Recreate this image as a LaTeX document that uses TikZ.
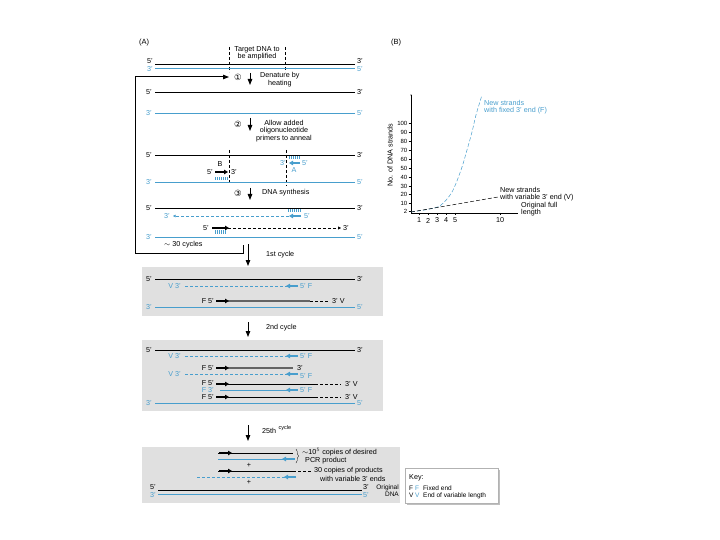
\documentclass[tikz,border=0pt]{standalone}
\usepackage{fontspec}
\setmainfont{Liberation Sans}
\newfontfamily\dvfont{DejaVu Sans}
\usetikzlibrary{arrows.meta,decorations.pathreplacing}
\definecolor{bl}{RGB}{72,158,205}
\definecolor{boxg}{RGB}{224,224,224}
\definecolor{newg}{RGB}{100,100,100}
\begin{document}
\begin{tikzpicture}[x=1pt,y=-1pt,
 lbl/.style={font=\fontsize{7.2}{7.4}\selectfont, inner sep=0pt, text=black},
 blbl/.style={lbl, text=bl},
 slbl/.style={lbl, font=\fontsize{6}{6.5}\selectfont},
 klbl/.style={lbl, font=\fontsize{6.5}{7}\selectfont},
 circ/.style={font=\dvfont\fontsize{8.5}{9}\selectfont, inner sep=0pt},
 ks/.style={line width=0.6pt},
 kthin/.style={line width=0.4pt},
 bs/.style={draw=bl, line width=0.5pt},
 kp/.style={line width=1.4pt, -{Triangle[length=4pt,width=4.5pt]}},
 bp/.style={kp, draw=bl},
 newk/.style={line width=1.2pt, draw=newg},
 kd/.style={line width=0.5pt, dash pattern=on 3pt off 2pt},
 bd/.style={draw=bl, line width=0.5pt, dash pattern=on 3pt off 2pt},
 vd/.style={line width=0.4pt, dash pattern=on 3pt off 2pt},
 flow/.style={line width=1pt, -{Triangle[length=6pt,width=4.5pt]}},
 hatch/.style={draw=bl, line width=0.3pt},
 gbox/.style={fill=boxg, draw=none}
]
\useasboundingbox (0,0) rectangle (720,540);

% ---------------- (A) ----------------
\node[lbl, font=\fontsize{7.5}{8}\selectfont] (lA) at (144,43) {(A)};
\node[lbl, align=center] (tgt) at (257,53) {Target DNA to\\be amplified};
\draw[vd] (229,47) -- (229,72);
\draw[vd] (285,47) -- (285,72);

% original duplex
\draw[kthin] (155,64) -- (355,64);
\draw[bs] (155,68) -- (355,68);
\node[lbl] (o5) at (150,61.5) {5'};
\node[lbl] (o3) at (360,61.5) {3'};
\node[blbl] (o3b) at (150,69.5) {3'};
\node[blbl] (o5b) at (360,69.5) {5'};

% loop
\coordinate (lp0) at (243,245);
\coordinate (lp1) at (135,253);
\coordinate (lp2) at (229,77);
\draw[line width=1pt, -{Triangle[length=6pt,width=4.5pt]}] (lp0) -- (243,253) -- (lp1) -- (135,77) -- (lp2);

% step 1
\node[circ] (c1) at (238,77) {①};
\coordinate (a1s) at (250,73); \coordinate (a1e) at (250,85);
\draw[flow] (a1s) -- (a1e);
\node[lbl, align=center, anchor=west] (den) at (260,79.5) {Denature by\\heating};

\draw[ks] (155,92) -- (355,92);
\node[lbl] (d5) at (149,92) {5'};
\node[lbl] (d3) at (360,92) {3'};
\draw[bs] (155,113) -- (355,113);
\node[blbl] (d3b) at (149,113) {3'};
\node[blbl] (d5b) at (360,113) {5'};

% step 2
\node[circ] (c2) at (238,124) {②};
\coordinate (a2s) at (250,118); \coordinate (a2e) at (250,131);
\draw[flow] (a2s) -- (a2e);
\node[lbl, align=center] (anl) at (284,131) {Allow added\\oligonucleotide\\primers to anneal};

\draw[ks] (155,155) -- (355,155);
\node[lbl] (e5) at (149,155) {5'};
\node[lbl] (e3) at (360,155) {3'};
\draw[vd] (229,150) -- (229,183);
\draw[vd] (286,150) -- (286,186);
\foreach \x in {289,291,...,299} \draw[hatch] (\x,156.5) -- (\x,159.5);
\draw[bp] (300,163) -- (289,163);
\node[blbl] (pA3) at (283,163) {3'};
\node[blbl] (pA5) at (305,163) {5'};
\node[blbl] (pA) at (294,170.5) {A};
\node[lbl] (pB) at (220,164) {B};
\draw[kp] (215,172) -- (228,172);
\node[lbl] (pB5) at (210,172) {5'};
\node[lbl] (pB3) at (234,172) {3'};
\foreach \x in {215,217,...,227} \draw[hatch] (\x,177.5) -- (\x,180.5);
\draw[bs] (155,182) -- (355,182);
\node[blbl] (e3b) at (149,182) {3'};
\node[blbl] (e5b) at (360,182) {5'};

% step 3
\node[circ] (c3) at (238,193) {③};
\coordinate (a3s) at (250,188); \coordinate (a3e) at (250,200);
\draw[flow] (a3s) -- (a3e);
\node[lbl, anchor=west] (syn) at (262,193) {DNA synthesis};

\draw[ks] (155,208) -- (355,208);
\node[lbl] (f5) at (149,208) {5'};
\node[lbl] (f3) at (360,208) {3'};
\foreach \x in {288,290,...,300} \draw[hatch] (\x,209.5) -- (\x,212.5);
\node[blbl] (f3n) at (167,216) {3'};
\draw[bd, -{Triangle[length=2.5pt,width=2.5pt]}] (289,216) -- (173,216);
\draw[bp] (301,216) -- (289,216);
\node[blbl] (f5n) at (307,216) {5'};
\node[lbl] (g5n) at (206,228) {5'};
\draw[kd, -{Triangle[length=3pt,width=3pt]}] (228,228) -- (341,228);
\draw[kp] (212,228) -- (229,228);
\node[lbl] (g3n) at (346,228) {3'};
\foreach \x in {215,217,...,225} \draw[hatch] (\x,230.5) -- (\x,233.5);
\draw[bs] (155,237) -- (355,237);
\node[blbl] (g3b) at (149,237) {3'};
\node[blbl] (g5b) at (360,237) {5'};

\node[lbl, anchor=west] (cyc) at (164,245) {$\sim$ 30 cycles};
\coordinate (c1s) at (248,244); \coordinate (c1e) at (248,266);
\draw[flow] (c1s) -- (c1e);
\node[lbl, anchor=west] (first) at (266,255) {1st cycle};

% ---------- box 1
\fill[gbox] (142,267) rectangle (383,316);
\draw[ks] (155,279) -- (355,279);
\node[lbl] (h5) at (149,279) {5'};
\node[lbl] (h3) at (360,279) {3'};
\node[blbl, anchor=east] (h1l) at (181,286) {V 3'};
\draw[bd] (185,286) -- (288,286);
\draw[bp] (298,286) -- (286,286);
\node[blbl, anchor=west] (h1r) at (300,286) {5' F};
\node[lbl, anchor=east] (h2l) at (214,301) {F 5'};
\draw[newk] (228,301) -- (310,301);
\draw[kd] (310,301) -- (328,301);
\draw[kp] (216,301) -- (229,301);
\node[lbl, anchor=west] (h2r) at (332,301) {3' V};
\draw[bs] (155,307) -- (355,307);
\node[blbl] (h3b) at (149,307) {3'};
\node[blbl] (h5b) at (360,307) {5'};

\coordinate (c2s) at (248,322); \coordinate (c2e) at (248,337);
\draw[flow] (c2s) -- (c2e);
\node[lbl, anchor=west] (second) at (266,328) {2nd cycle};

% ---------- box 2
\fill[gbox] (142,340) rectangle (383,411);
\draw[ks] (155,350) -- (355,350);
\node[lbl] (i5) at (149,350) {5'};
\node[lbl] (i3) at (360,350) {3'};
\node[blbl, anchor=east] (i1l) at (181,356) {V 3'};
\draw[bd] (185,356) -- (288,356);
\draw[bp] (298,356) -- (286,356);
\node[blbl, anchor=west] (i1r) at (300,356) {5' F};
\node[lbl, anchor=east] (i2l) at (214,368) {F 5'};
\draw[newk] (228,368) -- (293,368);
\draw[kp] (216,368) -- (229,368);
\node[lbl, anchor=west] (i2r) at (297,368) {3'};
\node[blbl, anchor=east] (i3l) at (181,374) {V 3'};
\draw[bd] (185,374) -- (288,374);
\draw[bp] (298,374) -- (286,374);
\node[blbl, anchor=west] (i3r) at (300,376) {5' F};
\node[lbl, anchor=east] (i4l) at (214,383.5) {F 5'};
\draw[ks] (228,384) -- (315,384);
\draw[kd] (315,384) -- (341,384);
\draw[kp] (216,384) -- (229,384);
\node[lbl, anchor=west] (i4r) at (345,384) {3' V};
\node[blbl, anchor=east] (i5l) at (214,390) {F 3'};
\draw[bs] (220,390) -- (288,390);
\draw[bp] (298,390) -- (286,390);
\node[blbl, anchor=west] (i5r) at (300,390) {5' F};
\node[lbl, anchor=east] (i6l) at (214,397) {F 5'};
\draw[ks] (228,397) -- (315,397);
\draw[kd] (315,397) -- (341,397);
\draw[kp] (216,397) -- (229,397);
\node[lbl, anchor=west] (i6r) at (345,397) {3' V};
\draw[bs] (155,403) -- (355,403);
\node[blbl] (i3b) at (149,403) {3'};
\node[blbl] (i5b) at (360,403) {5'};

\coordinate (c3s) at (248,425); \coordinate (c3e) at (248,441);
\draw[flow] (c3s) -- (c3e);
\node[lbl, anchor=west] (nth) at (262,431) {25th};
\node[lbl, anchor=west, font=\fontsize{5.5}{6}\selectfont] (nthc) at ([xshift=2pt]nth.north east) {cycle};

% ---------- box 3
\fill[gbox] (142,447) rectangle (400,503);
\draw[ks] (218,453) -- (293,453);
\draw[kp] (219,453) -- (232,453);
\draw[bs] (218,459) -- (293,459);
\draw[bp] (295,459) -- (282,459);
\draw[line width=0.4pt, decorate, decoration={brace, amplitude=2.5pt}] (296,449) -- (296,463);
\node[lbl, anchor=west] (pcr1) at (302,452.5) {$\sim$10$^5$ copies of desired};
\node[lbl, anchor=west] (pcr2) at (305,461) {PCR product};
\node[lbl] (plus1) at (249,465) {+};
\draw[ks] (218,471) -- (293,471);
\draw[kd] (293,471) -- (311,471);
\draw[kp] (219,471) -- (232,471);
\node[lbl, anchor=west] (var1) at (314,471) {30 copies of products};
\node[lbl, anchor=west] (var2) at (320,479) {with variable 3' ends};
\draw[bd] (197,477) -- (286,477);
\draw[bp] (296,477) -- (284,477);
\node[lbl] (plus2) at (249,482) {+};
\draw[ks] (158,490) -- (362,490);
\draw[bs] (158,494) -- (362,494);
\node[lbl] (j5) at (153,487) {5'};
\node[blbl] (j3b) at (153,495.5) {3'};
\node[lbl] (j3) at (366,487) {3'};
\node[blbl] (j5b) at (366,495.5) {5'};
\node[klbl, align=right, anchor=north east] (orig) at (399,485) {Original\\DNA};

% ---------------- (B) ----------------
\node[lbl, font=\fontsize{7.5}{8}\selectfont] (lB) at (396,43) {(B)};
\draw[line width=0.4pt] (411,95) -- (411,213) -- (518,213);
\fill (411,95) circle (0.6pt);
\node[lbl, rotate=90] (ylab) at (390,155) {No. of DNA strands};
\foreach \v/\y in {100/123,90/132,80/141,70/150,60/159.5,50/168.5,40/177,30/186,20/194.5,10/203,2/211.5}{
  \node[slbl, anchor=east] (y\v) at (407.5,\y) {\v};
  \draw[line width=0.3pt] (408.5,\y) -- (411,\y);
}
\foreach \v/\x in {1/419,2/428,3/437,4/446,5/455,10/500}{
  \node[lbl] (x\v) at (\x,220.5) {\v};
  \draw[line width=0.3pt] (\x,213) -- (\x,215);
}
\draw[bd, dash pattern=on 4pt off 2pt] plot[smooth, tension=0.55] coordinates {(411,212) (430,209) (441,205) (452,192) (461,170) (467,150) (472,132) (476,115) (482,95)};
\draw[kd, dash pattern=on 4pt off 2pt] (411,212) -- (498,197);
\node[blbl, align=left, anchor=west] (fixl) at (484,107) {New strands\\with fixed 3' end (F)};
\node[lbl, align=left, anchor=west] (varl) at (500,194) {New strands\\with variable 3' end (V)};
\node[lbl, align=left, anchor=west] (full) at (521,209) {Original full\\length};

% key
\fill[black!25] (407,470) rectangle (500,505);
\filldraw[fill=white, draw=black!30, line width=0.3pt] (405,468) rectangle (498,503);
\node[lbl, anchor=west] (key) at (409,478) {Key:};
\node[klbl, anchor=west] (kF) at (409,488) {F};
\node[klbl, anchor=west, text=bl] (kFb) at (415,488) {F};
\node[klbl, anchor=west] (kFt) at (423,488) {Fixed end};
\node[klbl, anchor=west] (kV) at (409,495.5) {V};
\node[klbl, anchor=west, text=bl] (kVb) at (415,495.5) {V};
\node[klbl, anchor=west] (kVt) at (423,495.5) {End of variable length};
\end{tikzpicture}
\end{document}
